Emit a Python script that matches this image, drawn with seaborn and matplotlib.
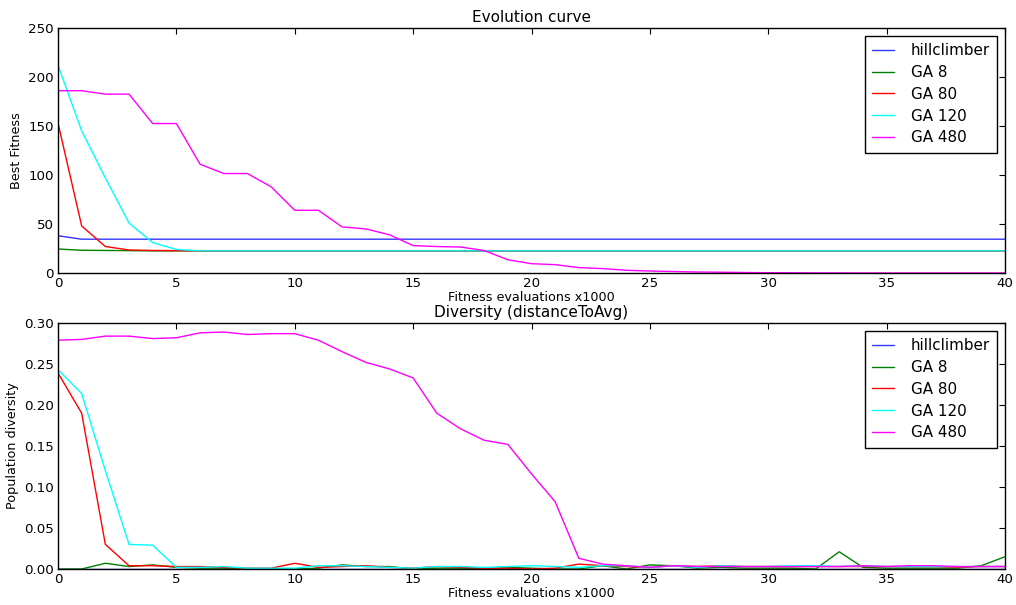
import numpy as np
import pandas as pd
import matplotlib
matplotlib.use("Agg")
import matplotlib.pyplot as plt
import seaborn as sns

# ---- data ----
evals = list(range(41))
series_names = ["hillclimber", "GA 8", "GA 80", "GA 120", "GA 480"]
series_colors = ["#0000ff", "#008000", "#ff0000", "#00ffff", "#ff00ff"]

fit_hill = [38, 34.5] + [34.5] * 39
fit_ga8 = [24.5, 23.2, 23.0, 22.8] + [22.6] * 37
fit_ga80 = [153, 48, 27, 23.5, 23, 22.8, 22.6] + [22.6] * 34
fit_ga120 = [212, 145, 97, 51, 31, 24, 22.6] + [22.6] * 34
fit_ga480 = [186, 186, 182.5, 182.5, 152.5, 152.5, 111, 101.5, 101.5, 88,
             64, 64, 47, 45, 39, 28, 27, 26.5, 23, 13.5,
             9.5, 8.5, 5.5, 4.5, 2.8, 2, 1.5, 1, 0.8, 0.5,
             0.3, 0.2, 0.1, 0.1, 0, 0, 0, 0, 0, 0, 0]

div_hill = [0.0] * 41
div_ga8 = [0.000, 0.000, 0.007, 0.003, 0.005, 0.002, 0.001, 0.001, 0.000, 0.000,
           0.000, 0.001, 0.005, 0.003, 0.003, 0.000, 0.001, 0.001, 0.000, 0.002,
           0.001, 0.000, 0.000, 0.004, 0.000, 0.005, 0.004, 0.001, 0.002, 0.001,
           0.001, 0.001, 0.000, 0.021, 0.002, 0.001, 0.001, 0.001, 0.001, 0.004,
           0.015]
div_ga80 = [0.239, 0.190, 0.030, 0.004, 0.004, 0.003, 0.003, 0.002, 0.001, 0.001,
            0.007, 0.002, 0.003, 0.004, 0.002, 0.001, 0.003, 0.002, 0.001, 0.001,
            0.000, 0.001, 0.006, 0.004, 0.003, 0.002, 0.004, 0.003, 0.004, 0.003,
            0.003, 0.003, 0.003, 0.003, 0.003, 0.003, 0.003, 0.003, 0.002, 0.003,
            0.003]
div_ga120 = [0.243, 0.214, 0.120, 0.030, 0.029, 0.002, 0.002, 0.003, 0.001, 0.001,
             0.001, 0.004, 0.004, 0.003, 0.002, 0.001, 0.003, 0.003, 0.002, 0.003,
             0.004, 0.003, 0.002, 0.004, 0.004, 0.002, 0.004, 0.002, 0.004, 0.003,
             0.003, 0.004, 0.004, 0.003, 0.004, 0.003, 0.003, 0.003, 0.003, 0.003,
             0.003]
div_ga480 = [0.279, 0.280, 0.284, 0.284, 0.281, 0.282, 0.288, 0.289, 0.286, 0.287,
             0.287, 0.279, 0.265, 0.252, 0.244, 0.233, 0.190, 0.171, 0.157, 0.152,
             0.116, 0.082, 0.013, 0.006, 0.004, 0.002, 0.004, 0.003, 0.003, 0.003,
             0.003, 0.003, 0.003, 0.003, 0.004, 0.003, 0.004, 0.004, 0.003, 0.003,
             0.003]

fitness = [fit_hill, fit_ga8, fit_ga80, fit_ga120, fit_ga480]
diversity = [div_hill, div_ga8, div_ga80, div_ga120, div_ga480]

sns.set_style("white")
plt.rcParams["font.family"] = ["DejaVu Sans"]
plt.rcParams["xtick.direction"] = "in"
plt.rcParams["ytick.direction"] = "in"
plt.rcParams["text.color"] = "black"
plt.rcParams["axes.labelcolor"] = "black"
plt.rcParams["xtick.color"] = "black"
plt.rcParams["ytick.color"] = "black"

fig = plt.figure(figsize=(10.16, 6.05), dpi=100)
ax1 = fig.add_axes([58 / 1016, 1 - 273 / 605, 947 / 1016, 245 / 605])
ax2 = fig.add_axes([58 / 1016, 1 - 569 / 605, 947 / 1016, 246 / 605])


def draw(ax, data, title, ylabel, ylim, yticks, yfmt):
    for name, vals, col in zip(series_names, data, series_colors):
        df = pd.DataFrame({"x": evals, "y": vals})
        sns.lineplot(data=df, x="x", y="y", color=col, label=name, ax=ax,
                     linewidth=1.0, alpha=0.8 if name == "hillclimber" else 1.0)
    ax.set_xlim(0, 40)
    ax.set_ylim(*ylim)
    ax.set_xticks(range(0, 41, 5))
    ax.set_yticks(yticks)
    ax.set_yticklabels([yfmt.format(v) for v in yticks])
    ax.tick_params(axis="both", which="both", direction="in", top=True, right=True,
                   length=4, width=0.8, labelsize=9.6, pad=3, colors="black")
    ax.set_title(title, fontsize=11, pad=4, color="black")
    ax.set_xlabel("Fitness evaluations x1000", fontsize=9.2, labelpad=0.5)
    ax.set_ylabel(ylabel, fontsize=9.2, labelpad=3.5)
    for sp in ax.spines.values():
        sp.set_visible(True)
        sp.set_color("black")
        sp.set_linewidth(1.0)
    leg = ax.legend(loc="upper right", fontsize=10.9, frameon=True, fancybox=False,
                    edgecolor="black", framealpha=1.0, handlelength=1.45,
                    handletextpad=1.1, borderpad=0.5, labelspacing=0.45,
                    borderaxespad=0.5)
    leg.get_frame().set_linewidth(1.0)
    for t in leg.get_texts():
        t.set_color("black")


draw(ax1, fitness, "Evolution curve", "Best Fitness", (0, 250),
     [0, 50, 100, 150, 200, 250], "{:d}")
draw(ax2, diversity, "Diversity (distanceToAvg)", "Population diversity", (0, 0.30),
     [0.0, 0.05, 0.10, 0.15, 0.20, 0.25, 0.30], "{:.2f}")

fig.savefig("out.png", dpi=100)
